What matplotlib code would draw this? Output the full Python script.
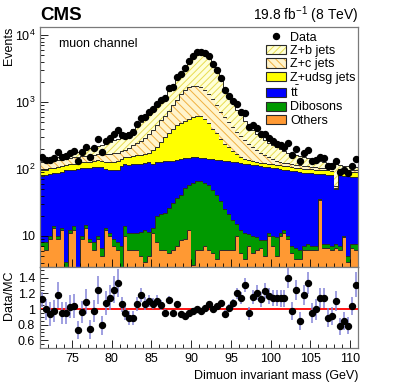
import numpy as np
import matplotlib
matplotlib.use('Agg')
import matplotlib.pyplot as plt
from matplotlib.patches import Patch
from matplotlib.lines import Line2D
from matplotlib.ticker import FixedLocator, MultipleLocator, LogLocator, NullFormatter

plt.rcParams['font.family'] = ['Liberation Sans', 'DejaVu Sans']
plt.rcParams['mathtext.fontset'] = 'custom'
plt.rcParams['mathtext.rm'] = 'Liberation Sans'
plt.rcParams['mathtext.it'] = 'Liberation Sans:italic'
plt.rcParams['mathtext.bf'] = 'Liberation Sans:bold'
plt.rcParams['hatch.linewidth'] = 0.7

# 0.5 GeV bins, 71-111 GeV
edges = np.arange(71, 111.01, 0.5)
centers = edges[:-1] + 0.25

data = [150, 137, 134, 145, 181, 150, 156, 175, 183, 133,
        182, 215, 151, 207, 276, 182, 261, 291, 335, 379,
        323, 312, 317, 352, 471, 584, 599, 704, 792, 950,
        1060, 1134, 1617, 1691, 2364, 2618, 3185, 4064, 4900, 5522,
        5586, 5353, 4899, 3682, 2964, 2311, 1515, 1242, 1032, 924,
        718, 688, 421, 447, 409, 338, 333, 288, 258, 239,
        225, 212, 246, 164, 200, 131, 176, 192, 132, 134,
        150, 145, 110, 110, 130, 90, 95, 86, 112, 139]

others = [7, 6, 9, 13, 9, 12, 0.5, 11, 12, 0.5,
          9, 13, 8, 6, 9, 5, 12, 10, 7, 6,
          3, 10, 6, 6, 6, 5, 4, 5, 11, 8,
          6, 6, 5.5, 6, 7, 8.5, 9, 12, 3.6, 6,
          6, 7, 6, 5.5, 4.5, 6, 6, 6, 6, 10,
          5.5, 4.5, 7, 5.5, 6, 6.5, 5, 10, 7, 5,
          10, 11, 9, 5.5, 4.5, 4.5, 6, 6, 6, 6,
          34, 6.5, 6.5, 6, 6.5, 6, 9.5, 4, 6.5, 6]

dibosons = [1, 2, 1, 1, 1, 1, 3.5, 1, 2, 2.5,
            1, 1.5, 1, 2, 1, 1.5, 1, 1, 2, 2,
            4, 4, 5, 5, 5, 6.5, 8, 6.5, 2, 11.5,
            15, 16, 20.5, 25, 30, 32.5, 43, 46, 59, 59,
            59, 54, 52, 43.5, 36.5, 27, 19, 15, 11.5, 5,
            6.5, 6.5, 3.5, 4.5, 3.5, 2, 3.5, 1, 3, 4.5,
            1, 1, 1, 1.5, 2, 1.5, 1, 1.5, 1, 1,
            1, 1, 1, 1, 1, 1, 0.5, 1, 1, 1.5]

ttbar = [70, 72, 75, 73, 78, 77, 91, 85, 84, 97,
         92, 89.5, 95, 98, 98, 99.5, 87, 87, 88, 90,
         103, 104, 104, 107, 109, 106.5, 110, 113.5, 105, 105.5,
         107, 108, 104, 102, 101, 99, 93, 90, 87, 85,
         83, 84, 85, 91, 97, 103, 108, 109, 110.5, 110,
         110, 109, 107.5, 105, 103.5, 101.5, 99.5, 95, 94, 92.5,
         89, 86, 86, 87, 85.5, 84, 81, 79.5, 79, 78,
         49, 75.5, 74.5, 74, 42.5, 73, 69, 73, 69.5, 68.5]

zudsg = [17, 18, 18, 18, 19, 20, 20, 21, 22, 23,
         24, 24, 25, 26, 27, 27, 28, 29, 30, 32,
         32, 32, 35, 37, 40, 42, 46, 50, 72, 90,
         122, 170, 210, 267, 312, 340, 375, 412, 450, 470,
         472, 415, 347, 260, 202, 144, 107, 80, 57, 40,
         28, 20, 17, 15, 14, 14, 14, 13, 13, 13,
         13, 13, 13, 13, 13, 13, 13, 13, 13, 13,
         13, 13, 13, 13, 2, 13, 13, 13, 13, 13]

zc = [30, 30, 28, 29, 30, 30, 28, 28, 29, 29,
      29, 30, 31, 30, 30, 34, 40, 43, 45, 45,
      43, 45, 58, 70, 83, 105, 127, 160, 195, 235,
      280, 320, 400, 500, 630, 820, 980, 1090, 1120, 1100,
      1030, 970, 840, 700, 560, 440, 350, 290, 235, 195,
      160, 130, 105, 85, 63, 48, 38, 31, 23, 18,
      15, 13, 12, 11, 11, 11, 11, 10, 9, 8,
      7, 7, 7, 7, 3, 6, 6, 6, 6, 6]

zb = [8, 10, 12, 14, 16, 18, 21, 24, 27, 30,
      34, 38, 44, 50, 56, 64, 74, 84, 96, 108,
      120, 135, 152, 170, 197, 230, 265, 305, 355, 410,
      480, 580, 710, 880, 1150, 1500, 2000, 2650, 3280, 3830,
      4050, 3770, 3270, 2600, 1950, 1430, 1030, 730, 540, 410,
      320, 255, 205, 170, 148, 128, 110, 96, 86, 77,
      69, 62, 55, 50, 45, 41, 37, 34, 31, 29,
      27, 24, 22, 20, 63, 16, 14, 13, 12, 11]

ratio = [1.125, 0.995, 0.935, 0.98, 1.18, 0.95, 0.95, 1.03, 1.04, 0.73,
         0.965, 1.095, 0.74, 0.975, 1.25, 0.79, 1.08, 1.145, 1.25, 1.34,
         1.06, 0.945, 0.88, 0.89, 1.07, 1.18, 1.07, 1.10, 1.07, 1.105,
         1.05, 0.945, 1.115, 0.95, 1.06, 0.935, 0.91, 0.945, 0.98, 0.995,
         0.98, 1.01, 1.065, 0.995, 1.04, 1.075, 0.935, 1.01, 1.075, 1.20,
         1.14, 1.31, 0.945, 1.16, 1.21, 1.125, 1.235, 1.17, 1.14, 1.14,
         1.14, 1.14, 1.40, 0.975, 1.245, 0.845, 1.18, 1.33, 0.95, 0.995,
         1.145, 1.14, 0.89, 0.91, 1.105, 0.78, 0.845, 0.785, 1.04, 1.31]

ratio_err = [.10, .14, .15, .14, .17, .14, .14, .15, .15, .12,
             .14, .16, .12, .14, .18, .12, .15, .16, .17, .18,
             .10, .09, .09, .09, .09, .09, .08, .08, .07, .07,
             .06, .05, .05, .04, .04, .03, .03, .03, .03, .03,
             .03, .03, .03, .03, .04, .04, .05, .05, .06, .07,
             .08, .09, .08, .09, .10, .10, .10, .10, .10, .10,
             .11, .11, .13, .12, .13, .12, .13, .14, .13, .13,
             .13, .13, .12, .12, .13, .11, .12, .11, .12, .16]

# (values, label, face colour, hatch colour, hatch) from bottom to top
stack = [
    (others, 'Others', '#ff9933', None, None),
    (dibosons, 'Dibosons', '#009900', None, None),
    (ttbar, r'$\mathrm{t\bar{t}}$', '#0000ff', None, None),
    (zudsg, 'Z+udsg jets', '#ffff00', None, None),
    (zc, 'Z+c jets', '#fff4cc', '#f0b040', '\\\\\\\\'),
    (zb, 'Z+b jets', '#ffffd8', '#e8dc50', '/////'),
]

fig = plt.figure(figsize=(3.99, 3.83), dpi=100)
ax = fig.add_axes([0.1003, 0.3029, 0.797, 0.6266])
ax2 = fig.add_axes([0.1003, 0.0914, 0.797, 0.2115])

bottom = np.full(len(centers), 0.1)
for vals, lab, fc, hc, hatch in stack:
    top = bottom + np.array(vals)
    ax.stairs(top, edges, baseline=bottom, fill=True, facecolor=fc,
              edgecolor=hc if hc else fc, hatch=hatch, lw=0)
    ax.stairs(top, edges, baseline=None, color='#2a2a2a', lw=0.7)
    bottom = top

ax.plot(centers, data, 'o', color='k', ms=4.3, zorder=5)

ax.set_yscale('log')
ax.set_xlim(71, 111)
ax.set_ylim(3.44, 13200)
ax.yaxis.set_major_locator(FixedLocator([10, 100, 1000, 10000]))
ax.set_yticklabels(['10', '$10^2$', '$10^3$', '$10^4$'])
ax.yaxis.set_minor_locator(LogLocator(base=10, subs=np.arange(2, 10)))
ax.yaxis.set_minor_formatter(NullFormatter())
ax.xaxis.set_major_locator(MultipleLocator(5))
ax.xaxis.set_minor_locator(MultipleLocator(1))
ax.tick_params(axis='x', labelbottom=False)
ax.set_ylabel('Events', loc='top', fontsize=9)
ax.yaxis.set_label_coords(-0.078, 1.0)

for a in (ax, ax2):
    a.tick_params(which='both', direction='in', top=False, right=False, labelsize=9)
    a.tick_params(which='major', length=6, width=0.6)
    a.tick_params(which='minor', length=3, width=0.6)
    for s in a.spines.values():
        s.set_color('#7a7a7a')
        s.set_linewidth(0.9)

handles = [Line2D([], [], marker='o', color='k', ls='none', ms=4.3)]
labels = ['Data']
for vals, lab, fc, hc, hatch in stack[::-1]:
    fill = Patch(facecolor=fc, edgecolor=hc if hc else fc, hatch=hatch, lw=0)
    line = Patch(fill=False, edgecolor='#2a2a2a', lw=0.8)
    handles.append((fill, line))
    labels.append(lab)
ax.legend(handles, labels, loc='upper left', bbox_to_anchor=(0.712, 0.98),
          frameon=False, fontsize=9, handlelength=1.6, handleheight=0.75,
          labelspacing=0.1, handletextpad=0.3, borderaxespad=0, borderpad=0)

ax.text(0.06, 0.955, 'muon channel', transform=ax.transAxes, fontsize=9,
        va='top', ha='left')
fig.text(0.1003, 0.948, 'CMS', fontsize=13.5, fontweight='bold', ha='left', va='baseline')
fig.text(0.897, 0.948, r'19.8 fb$^{-1}$ (8 TeV)', fontsize=10, ha='right', va='baseline')

ax2.axhline(1.0, color='#ff0000', lw=1.3, zorder=1)
ax2.errorbar(centers, ratio, yerr=ratio_err, fmt='o', color='k', ms=4.3,
             ecolor='#8585d8', elinewidth=1.1, capsize=0, zorder=3)
ax2.set_xlim(71, 111)
ax2.set_ylim(0.5, 1.54)
ax2.yaxis.set_major_locator(FixedLocator([0.6, 0.8, 1.0, 1.2, 1.4]))
ax2.set_yticklabels(['0.6', '0.8', '1', '1.2', '1.4'])
ax2.yaxis.set_minor_locator(MultipleLocator(0.05))
ax2.xaxis.set_major_locator(MultipleLocator(5))
ax2.xaxis.set_minor_locator(MultipleLocator(1))
ax2.set_ylabel('Data/MC', fontsize=9)
ax2.yaxis.set_label_coords(-0.078, 0.65)
ax2.set_xlabel('Dimuon invariant mass (GeV)', loc='right', fontsize=9)

fig.savefig('out.png', dpi=100)
